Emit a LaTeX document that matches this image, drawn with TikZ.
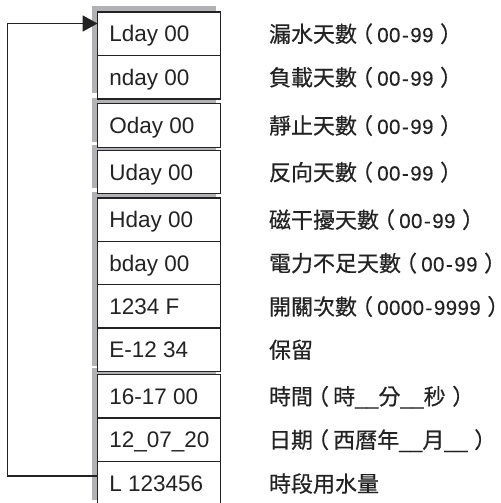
\documentclass[tikz,border=0pt]{standalone}
\usepackage{fontspec}
\setmainfont{Liberation Sans}
\newfontfamily\cjk[FakeBold=0.5]{Noto Sans CJK TC}
\newfontfamily\digf[LetterSpace=2,FakeBold=0.2]{Liberation Sans}
\usetikzlibrary{arrows.meta,calc}
\definecolor{shadowgray}{RGB}{178,178,182}
\definecolor{ink}{RGB}{35,35,35}
\tikzset{
  box/.style={draw=ink, line width=1.3bp, fill=white, inner sep=0pt, outer sep=0pt,
              minimum width=122.8bp, anchor=north west},
  boxtxt/.style={inner sep=0pt, anchor=base west, text=ink,
                 font=\fontsize{22.5bp}{26bp}\selectfont},
  lbl/.style={inner sep=0pt, anchor=base west, text=ink,
              font=\fontsize{22bp}{26bp}\selectfont\cjk},
  conn/.style={draw=ink, line width=1.5bp},
  shade/.style={fill=shadowgray}
}
\newcommand\lp{\hspace{-0.27em}（\hspace{0.19em}}
\newcommand\rp{\hspace{0.3em}）}
\newcommand\dg[1]{{\digf\fontsize{20.5bp}{24bp}\selectfont #1}}
\newcommand\hy{\kern1.5bp-\kern1.5bp}
\newcommand\mkrow[5]{%
  \node[box, minimum height=#3bp] (#1) at (97.6,#2) {};
  \node[boxtxt] (#1t) at ($(#1.west)+(11.6,8.2)$) {#4};
  \node[lbl] (#1l) at ($(#1.west)+(171.2,8.4)$) {#5};
}
\begin{document}
\begin{tikzpicture}[x=1bp,y=-1bp]
\useasboundingbox (0,0) rectangle (501,503);
% shadows of the groups
\fill[shade] (92,6) rectangle (216,93);
\fill[shade] (92,98) rectangle (216,142);
\fill[shade] (92,145) rectangle (216,188);
\fill[shade] (92,192) rectangle (216,366);
\fill[shade] (92,368) rectangle (216,500);
% rows
\mkrow{r1}{12}{43.5}{Lday 00}{漏水天數\lp\dg{00\hy99}\rp}
\mkrow{r2}{55.5}{43.5}{nday 00}{負載天數\lp\dg{00\hy99}\rp}
\mkrow{r3}{103.8}{43.4}{Oday 00}{靜止天數\lp\dg{00\hy99}\rp}
\mkrow{r4}{150.8}{42.6}{Uday 00}{反向天數\lp\dg{00\hy99}\rp}
\mkrow{r5}{198}{43.3}{Hday 00}{磁干擾天數\lp\dg{00\hy99}\rp}
\mkrow{r6}{241.3}{43.5}{bday 00}{電力不足天數\lp\dg{00\hy99}\rp}
\mkrow{r7}{284.8}{43.3}{1234 F}{開關次數\lp\dg{0000\hy9999}\rp}
\mkrow{r8}{328.1}{43.2}{E-12 34}{保留}
\mkrow{r9}{374.5}{43.5}{16-17 00}{時間\lp 時\dg{\_\_}分\dg{\_\_}秒\rp}
\mkrow{r10}{418}{43.3}{12\_07\_20}{日期\lp 西曆年\dg{\_\_}月\dg{\_\_}\rp}
\mkrow{r11}{461.3}{44.5}{L 123456}{時段用水量}
% feedback connector
\coordinate (c1) at (7.5,23.5);
\coordinate (c2) at (7.5,476);
\draw[conn, -{Triangle[length=15bp,width=16bp]}]
  (r11.west |- c2) -- (c2) -- (c1) -- (r1.west |- c1);
\end{tikzpicture}
\end{document}
